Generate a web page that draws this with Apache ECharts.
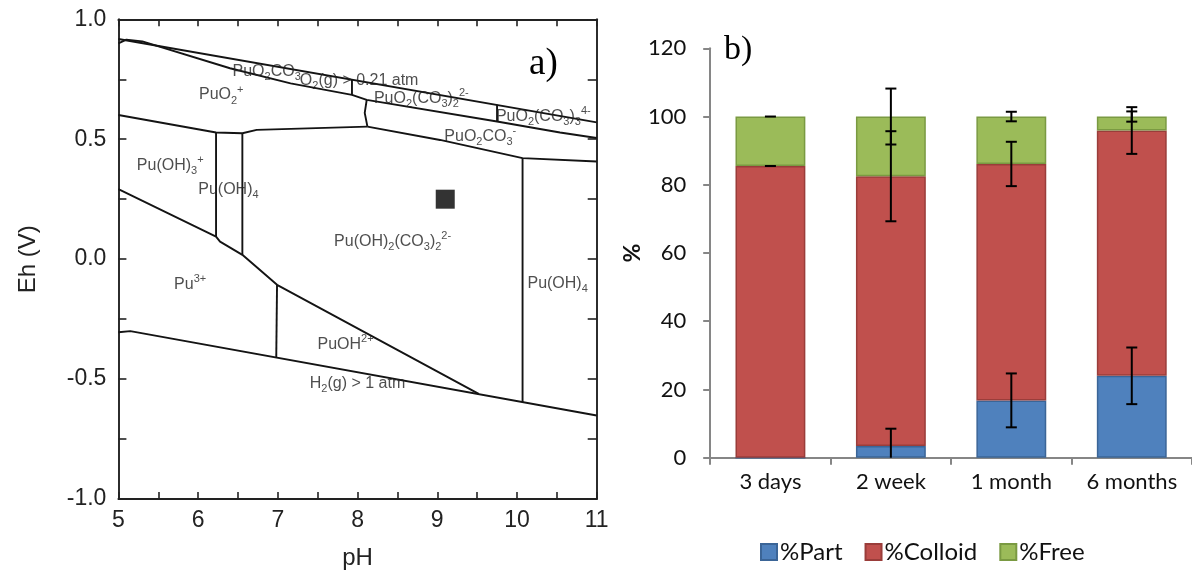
<!DOCTYPE html>
<html>
<head>
<meta charset="utf-8">
<script src="https://cdn.jsdelivr.net/npm/echarts@6/dist/echarts.min.js"></script>
<style>
html,body{margin:0;padding:0;background:#fff;}
#c{width:1192px;height:578px;}
</style>
</head>
<body>
<div id="c"></div>
<script>
// ---------- Panel a) : Eh-pH diagram boundaries [pH, Eh] ----------
const o2Line      = [[5.0,0.918],[11.0,0.570]];
const bandLower   = [[5.0,0.900],[5.1,0.915],[5.3,0.908],[6.4,0.796],[7.16,0.733],[7.93,0.685],[8.115,0.664],[9.75,0.574],[10.54,0.528],[11.0,0.505]];
const vertCO3a    = [[7.93,0.749],[7.93,0.685]];
const vertCO3b    = [[9.75,0.644],[9.75,0.574]];
const vertPuO2    = [[8.115,0.664],[8.09,0.61],[8.124,0.5525]];
const puo2co3Low  = [[8.124,0.5525],[9.035,0.497],[10.07,0.421],[11.0,0.407]];
const puo2Low     = [[5.0,0.601],[6.225,0.528],[6.555,0.525],[6.735,0.539],[8.124,0.5525]];
const stripeLeft  = [[6.225,0.528],[6.225,0.094]];
const stripeRight = [[6.555,0.525],[6.555,0.018]];
const pu3Upper    = [[5.0,0.292],[6.225,0.094],[6.275,0.073],[6.555,0.018],[6.99,-0.107],[9.52,-0.562]];
const puohLeft    = [[6.99,-0.107],[6.98,-0.412]];
const puoh4Left   = [[10.07,0.421],[10.07,-0.596]];
const h2Line      = [[5.0,-0.305],[5.15,-0.300],[11.0,-0.652]];
const samplePoint = [[9.1,0.25]];
const regionLabels = [
  [6.29, 0.684, 'PuO{sub|2}{sup|+}'],
  [6.86, 0.782, 'PuO{sub|2}CO{sub|3}'],
  [8.02, 0.745, 'O{sub|2}(g) > 0.21 atm'],
  [8.80, 0.668, 'PuO{sub|2}(CO{sub|3}){sub|2}{sup|2-}'],
  [10.33, 0.593, 'PuO{sub|2}(CO{sub|3}){sub|3}{sup|4-}'],
  [9.54, 0.510, 'PuO{sub|2}CO{sub|3}{sup|-}'],
  [5.65, 0.389, 'Pu(OH){sub|3}{sup|+}'],
  [6.38, 0.289, 'Pu(OH){sub|4}'],
  [8.44, 0.072, 'Pu(OH){sub|2}(CO{sub|3}){sub|2}{sup|2-}'],
  [5.90, -0.107, 'Pu{sup|3+}'],
  [10.51, -0.103, 'Pu(OH){sub|4}'],
  [7.85, -0.357, 'PuOH{sup|2+}'],
  [8.00, -0.517, 'H{sub|2}(g) > 1 atm']
];
const boundaryLines = [o2Line, bandLower, vertCO3a, vertCO3b, vertPuO2, puo2co3Low, puo2Low,
  stripeLeft, stripeRight, pu3Upper, puohLeft, puoh4Left, h2Line];

// ---------- Panel b) : stacked bars ----------
const categories = ['3 days','2 week','1 month','6 months'];
const partVals    = [0, 3.4, 16.8, 24.0];
const colloidVals = [85.5, 79.1, 69.3, 71.9];
const freeVals    = [14.5, 17.5, 13.9, 4.1];
const partErr     = [0, 5.1, 7.9, 8.3];
const colloidErr  = [0, 13.2, 6.5, 6.85];
const freeErr     = [0, 8.2, 1.4, 1.5];
const yTicksB = [0,20,40,60,80,100,120];

// error-bar table built from the arrays (stacked tops)
const errData = [];
categories.forEach((c,i)=>{
  const t1 = partVals[i], t2 = t1 + colloidVals[i], t3 = t2 + freeVals[i];
  if (i > 0) errData.push([i, t1, partErr[i]]);
  errData.push([i, t2, colloidErr[i]]);
  errData.push([i, t3, freeErr[i]]);
});

const chart = echarts.init(document.getElementById('c'), null, {renderer:'canvas'});
const sansA = 'Liberation Sans';
const sansB = 'Lato';

const lineSeries = boundaryLines.map(d => ({
  type:'line', xAxisIndex:0, yAxisIndex:0, data:d, showSymbol:false, symbol:'none',
  lineStyle:{color:'#141414', width:1.9}, silent:true, z:3
}));

const option = {
  animation:false,
  backgroundColor:'#ffffff',
  grid:[
    {left:118.4, top:19.3, width:478.3, height:479.7, containLabel:false},
    {left:710.2, top:48.3, width:482, height:409.4, containLabel:false}
  ],
  xAxis:[
    {gridIndex:0, type:'value', min:5, max:11, interval:0.5, position:'bottom',
      name:'pH', nameLocation:'middle', nameGap:47,
      nameTextStyle:{fontFamily:sansA, fontSize:24, color:'#222'},
      axisLine:{onZero:false, lineStyle:{color:'#222', width:1.9}},
      axisTick:{inside:true, length:7, lineStyle:{color:'#222', width:1.6}},
      axisLabel:{margin:10, fontFamily:sansA, fontSize:23, color:'#222',
        formatter:v => (Math.abs(v-Math.round(v))<1e-6 ? String(Math.round(v)) : '')},
      splitLine:{show:false}},
    {gridIndex:0, type:'value', min:5, max:11, interval:0.5, position:'top',
      axisLine:{onZero:false, lineStyle:{color:'#222', width:1.9}},
      axisTick:{inside:true, length:7, lineStyle:{color:'#222', width:1.6}},
      axisLabel:{show:false}, splitLine:{show:false}},
    {gridIndex:1, type:'category', data:categories, position:'bottom',
      axisLine:{lineStyle:{color:'#868686', width:2}},
      axisTick:{show:true, inside:false, length:7, alignWithLabel:false, lineStyle:{color:'#868686', width:2}},
      axisLabel:{margin:13, fontFamily:sansB, fontSize:22, color:'#111'}}
  ],
  yAxis:[
    {gridIndex:0, type:'value', min:-1, max:1, interval:0.25, position:'left',
      name:'Eh (V)', nameLocation:'middle', nameGap:78, nameRotate:90,
      nameTextStyle:{fontFamily:sansA, fontSize:24, color:'#222'},
      axisLine:{onZero:false, lineStyle:{color:'#222', width:1.9}},
      axisTick:{inside:true, length:8, lineStyle:{color:'#222', width:1.6}},
      axisLabel:{margin:12, fontFamily:sansA, fontSize:23, color:'#222',
        formatter:v => (Math.abs(v*2-Math.round(v*2))<1e-6 ? v.toFixed(1) : '')},
      splitLine:{show:false}},
    {gridIndex:0, type:'value', min:-1, max:1, interval:0.25, position:'right',
      axisLine:{onZero:false, lineStyle:{color:'#222', width:1.9}},
      axisTick:{inside:true, length:9, lineStyle:{color:'#222', width:1.6}},
      axisLabel:{show:false}, splitLine:{show:false}},
    {gridIndex:1, type:'value', min:yTicksB[0], max:yTicksB[yTicksB.length-1], interval:20,
      name:'%', nameLocation:'middle', nameGap:63, nameRotate:90,
      nameTextStyle:{fontFamily:sansB, fontSize:23, fontWeight:'bold', color:'#111'},
      axisLine:{show:true, lineStyle:{color:'#868686', width:2}},
      axisTick:{show:true, inside:false, length:7, lineStyle:{color:'#868686', width:2}},
      axisLabel:{margin:24, fontFamily:sansB, fontSize:22, color:'#111'},
      splitLine:{show:false}}
  ],
  legend:{
    data:['%Part','%Colloid','%Free'],
    left:755, top:535, itemWidth:16, itemHeight:16, itemGap:22,
    icon:'rect',
    textStyle:{fontFamily:sansB, fontSize:24, color:'#111', padding:[0,0,0,-2]}
  },
  graphic:[
    {type:'text', left:529, top:46, style:{text:'a)', font:'37px "Liberation Serif"', fill:'#000'}},
    {type:'text', left:724, top:33, style:{text:'b)', font:'34px "Liberation Serif"', fill:'#000'}}
  ],
  series:[
    ...lineSeries,
    {type:'scatter', xAxisIndex:0, yAxisIndex:0, data:samplePoint, symbol:'rect', symbolSize:19,
      itemStyle:{color:'#000'}, silent:true, z:4},
    {type:'scatter', xAxisIndex:0, yAxisIndex:0, silent:true, z:5,
      data:regionLabels.map(r=>({value:[r[0],r[1]], label:{formatter:r[2]}})),
      symbolSize:1, itemStyle:{color:'rgba(0,0,0,0)'},
      label:{show:true, position:'inside', fontFamily:sansA, fontSize:16, lineHeight:22, color:'#222',
        rich:{
          sub:{fontFamily:sansA, fontSize:11, lineHeight:11, verticalAlign:'bottom', color:'#222'},
          sup:{fontFamily:sansA, fontSize:11, lineHeight:11, verticalAlign:'top', color:'#222'}
        }}},
    {name:'%Part', type:'bar', stack:'t', xAxisIndex:2, yAxisIndex:2, data:partVals, barCategoryGap:'42%',
      itemStyle:{color:'#4F81BD', borderColor:'#3B6597', borderWidth:1.5}},
    {name:'%Colloid', type:'bar', stack:'t', xAxisIndex:2, yAxisIndex:2, data:colloidVals, barCategoryGap:'42%',
      itemStyle:{color:'#C0504D', borderColor:'#9A3D3A', borderWidth:1.5}},
    {name:'%Free', type:'bar', stack:'t', xAxisIndex:2, yAxisIndex:2, data:freeVals, barCategoryGap:'42%',
      itemStyle:{color:'#9BBB59', borderColor:'#7A9A42', borderWidth:1.5}},
    {type:'custom', xAxisIndex:2, yAxisIndex:2, data:errData, z:10, silent:true,
      renderItem:(params, api)=>{
        const i = api.value(0), c = api.value(1), e = api.value(2);
        const lo = Math.max(0, c - e), hi = c + e;
        const pLo = api.coord([i, lo]), pHi = api.coord([i, hi]);
        const x = pLo[0], hw = 5.5;
        const st = {stroke:'#000', lineWidth:2};
        const kids = [
          {type:'line', shape:{x1:x-hw, y1:pHi[1], x2:x+hw, y2:pHi[1]}, style:st}
        ];
        if (e > 0) {
          kids.push({type:'line', shape:{x1:x, y1:pLo[1], x2:x, y2:pHi[1]}, style:st});
          if (c - e > 0) kids.push({type:'line', shape:{x1:x-hw, y1:pLo[1], x2:x+hw, y2:pLo[1]}, style:st});
        }
        return {type:'group', children:kids};
      }}
  ]
};
chart.setOption(option);
</script>
</body>
</html>
